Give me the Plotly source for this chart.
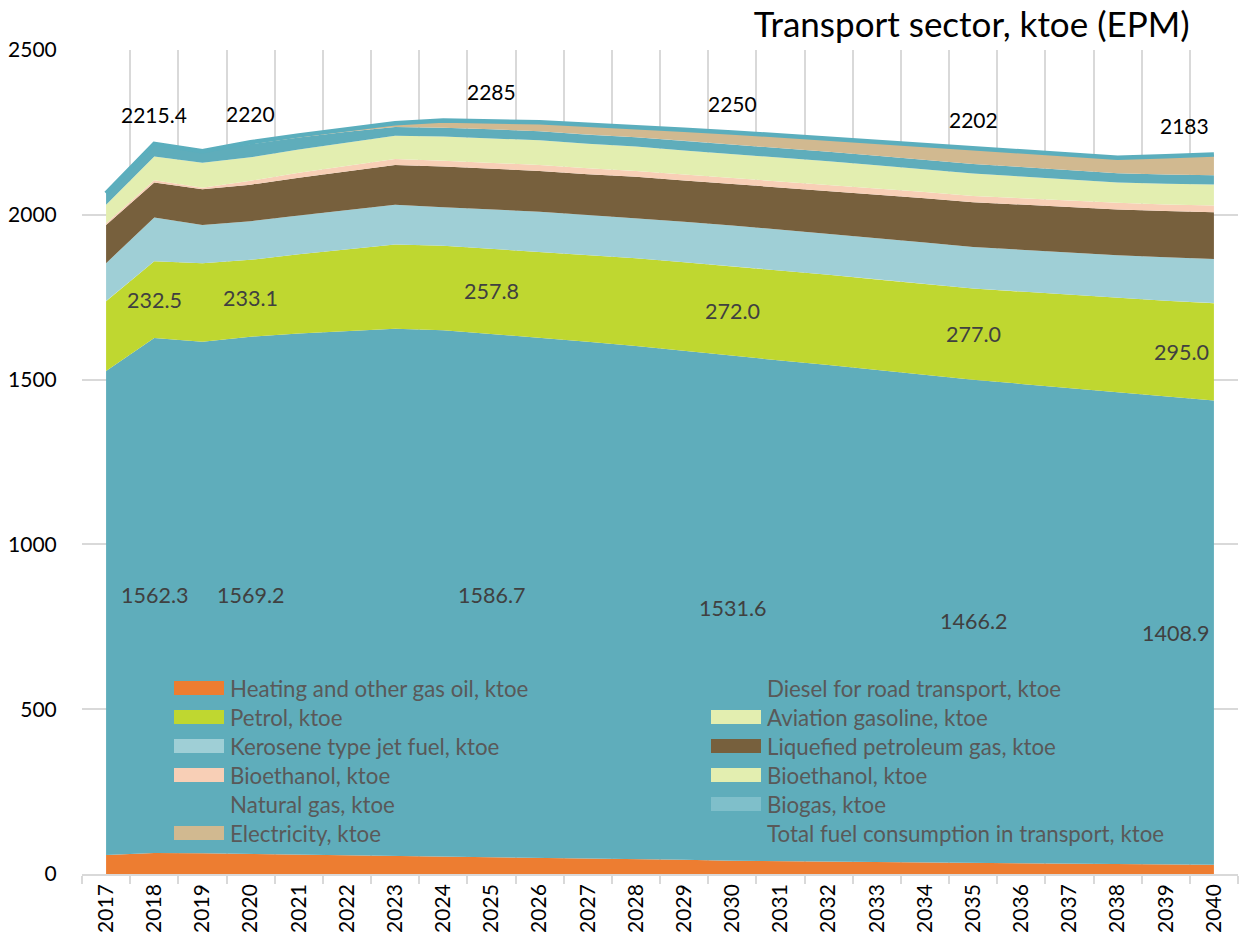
import plotly.graph_objects as go

years = [2017, 2018, 2019, 2020, 2021, 2022, 2023, 2024, 2025, 2026, 2027, 2028,
         2029, 2030, 2031, 2032, 2033, 2034, 2035, 2036, 2037, 2038, 2039, 2040]
heating = [58, 64, 63, 61, 60, 59, 56, 54, 52, 50, 48, 46, 43, 40, 39, 38, 36, 34, 33, 32, 31, 30, 29, 28]
diesel = [1468, 1562.3, 1552, 1569.2, 1580, 1588, 1598, 1596, 1586.7, 1577, 1567, 1556,
          1544, 1531.6, 1519, 1506, 1493, 1480, 1466.2, 1455, 1443, 1431, 1420, 1408.9]
petrol = [212, 232.5, 238, 233.1, 240, 248, 256, 256, 257.8, 261, 263, 266,
          269, 272.0, 273, 274, 275, 276, 277.0, 280, 283, 286, 290, 295.0]
aviation = [0.2, 0.2, 0.2, 0.2, 0.2, 0.2, 0.2, 0.2, 0.2, 0.2, 0.2, 0.2,
            0.2, 0.2, 0.2, 0.2, 0.2, 0.2, 0.2, 0.2, 0.2, 0.2, 0.2, 0.2]
kerosene = [115, 133, 116, 117, 118, 119, 120, 117, 120, 121, 121, 122, 123, 124, 124, 125, 125, 126, 126, 127, 128, 130, 132, 134]
lpg = [116, 106, 108, 111, 114, 118, 121, 123, 123, 124, 124, 125, 125, 126, 128, 130, 132, 134, 136, 137, 138, 139, 140, 142]
bioethanol = [5, 7, 5, 12, 15, 17, 18, 18, 18, 18, 18, 18, 18, 18, 18, 18, 19, 19, 19, 19, 20, 20, 20, 20]
bioethanol2 = [56, 72, 76, 71, 71, 71, 71, 73, 75, 75, 74, 74, 73, 73, 72, 71, 70, 69, 68, 66, 64, 62, 63, 64]
natural_gas = [35, 36, 32, 40, 36, 32, 26, 27, 27, 27, 28, 28, 29, 29, 29, 29, 29, 29, 29, 29, 28, 28, 28, 28]
biogas = [0.1, 0.1, 0.1, 0.1, 0.1, 0.1, 0.1, 0.1, 0.1, 0.1, 0.1, 0.1,
          0.1, 0.1, 0.1, 0.1, 0.1, 0.1, 0.1, 0.1, 0.1, 0.1, 0.1, 0.1]
electricity = [0, 2.6, 3, 5.7, 7, 9, 12, 22, 25.5, 28, 30, 32, 34, 36.4, 38, 40, 42, 44, 47.8, 47, 47, 47, 56, 63.1]
total = [2065, 2215.4, 2193, 2220, 2241, 2261, 2278, 2286, 2285, 2281, 2273, 2267,
         2258, 2250, 2240, 2231, 2221, 2211, 2202, 2192, 2182, 2173, 2178, 2183]
label_years = [2018, 2020, 2025, 2030, 2035, 2040]
y_ticks = [0, 500, 1000, 1500, 2000, 2500]

FONT = "Lato"
TEAL = "#5FADBB"
series = [
    ("Heating and other gas oil, ktoe", heating, "#ED7D31"),
    ("Diesel for road transport, ktoe", diesel, TEAL),
    ("Petrol, ktoe", petrol, "#BFD730"),
    ("Aviation gasoline, ktoe", aviation, "#E3EEB0"),
    ("Kerosene type jet fuel, ktoe", kerosene, "#9FCFD6"),
    ("Liquefied petroleum gas, ktoe", lpg, "#77603D"),
    ("Bioethanol, ktoe", bioethanol, "#F8CFB6"),
    ("Bioethanol, ktoe", bioethanol2, "#E3EEB0"),
    ("Natural gas, ktoe", natural_gas, TEAL),
    ("Biogas, ktoe", biogas, "#7FBFCA"),
    ("Electricity, ktoe", electricity, "#D1B990"),
]
TOTAL_NAME = "Total fuel consumption in transport, ktoe"
TOTAL_COLOR = "#5BAEBD"

fig = go.Figure()
for name, vals, col in series:
    fig.add_trace(go.Scatter(
        x=years, y=vals, name=name, mode="lines", stackgroup="one",
        line=dict(width=0, color=col), fillcolor=col, hoverinfo="skip",
        showlegend=False))

fig.add_trace(go.Scatter(
    x=years, y=total, name=TOTAL_NAME, mode="lines",
    line=dict(width=4.5, color=TOTAL_COLOR), hoverinfo="skip", showlegend=False))

annotations = []
shapes = []
for yr in label_years:
    i = years.index(yr)
    last = (yr == years[-1])
    anchor = dict(xanchor="right", xshift=-3) if last else dict(xanchor="center")
    annotations.append(dict(x=yr, y=heating[i] + diesel[i] / 2, text=f"{diesel[i]:.1f}",
                            showarrow=False, yanchor="middle",
                            font=dict(family=FONT, size=21.5, color="#404040"), **anchor))
    annotations.append(dict(x=yr, y=heating[i] + diesel[i] + petrol[i] / 2, text=f"{petrol[i]:.1f}",
                            showarrow=False, yanchor="middle",
                            font=dict(family=FONT, size=21.5, color="#404040"), **anchor))
    annotations.append(dict(x=yr, y=total[i], text=f"{total[i]:g}", yshift=29,
                            showarrow=False, yanchor="middle",
                            font=dict(family=FONT, size=21, color="#000000"), **anchor))

# custom two-column legend (row-major, like the original)
W, H = 1243, 940
ML, MR, MT, MB = 82, 5, 50, 66
pw, ph = W - ML - MR, H - MT - MB
legend_items = [(n, c) for n, _, c in series] + [(TOTAL_NAME, TOTAL_COLOR)]
col_x = [174, 711]
row_y0, row_dy = 688, 29
for k, (name, col) in enumerate(legend_items):
    r, c = divmod(k, 2)
    px, py = col_x[c], row_y0 + r * row_dy
    if name != TOTAL_NAME:
        shapes.append(dict(type="rect", xref="paper", yref="paper", layer="above",
                           x0=(px - ML) / pw, x1=(px + 50 - ML) / pw,
                           y0=(H - MB - (py + 7)) / ph, y1=(H - MB - (py - 7)) / ph,
                           fillcolor=col, line=dict(width=0)))
    annotations.append(dict(xref="paper", yref="paper", x=(px + 54 - ML) / pw,
                            y=(H - MB - py) / ph, text=name, showarrow=False,
                            xanchor="left", yanchor="middle",
                            font=dict(family=FONT, size=22.3, color="#595959")))

minor_vals = [y - 0.5 for y in years] + [years[-1] + 0.5]

fig.update_layout(
    width=W, height=H,
    margin=dict(l=ML, r=MR, t=MT, b=MB),
    paper_bgcolor="white", plot_bgcolor="white",
    title=dict(text="Transport sector, ktoe (EPM)", x=0.957, xanchor="right",
               y=0.974, yanchor="middle", font=dict(family=FONT, size=35, color="#000000")),
    font=dict(family=FONT),
    showlegend=False,
    annotations=annotations,
    shapes=shapes,
    xaxis=dict(range=[2016.5, 2040.5], tickmode="array", tickvals=years,
               ticktext=[str(y) for y in years], tickangle=-90, showgrid=False,
               ticks="", zeroline=False, showline=True, linecolor="#D9D9D9", linewidth=1.5,
               automargin=False,
               tickfont=dict(family=FONT, size=21, color="#000000"),
               minor=dict(tickmode="array", tickvals=minor_vals, showgrid=True,
                          gridcolor="#D9D9D9", gridwidth=1.5, ticks="outside",
                          ticklen=8, tickcolor="#D9D9D9", tickwidth=1.5)),
    yaxis=dict(range=[0, 2500], tickmode="array", tickvals=y_ticks,
               showgrid=True, gridcolor="#D9D9D9", gridwidth=1.5, zeroline=False,
               automargin=False, ticks="outside", ticklen=20, tickcolor="rgba(0,0,0,0)",
               tickfont=dict(family=FONT, size=21, color="#000000")),
)

fig.write_html("out.html", config={"displayModeBar": False},
               post_script="document.body.style.margin='0';document.body.style.overflow='hidden';")
